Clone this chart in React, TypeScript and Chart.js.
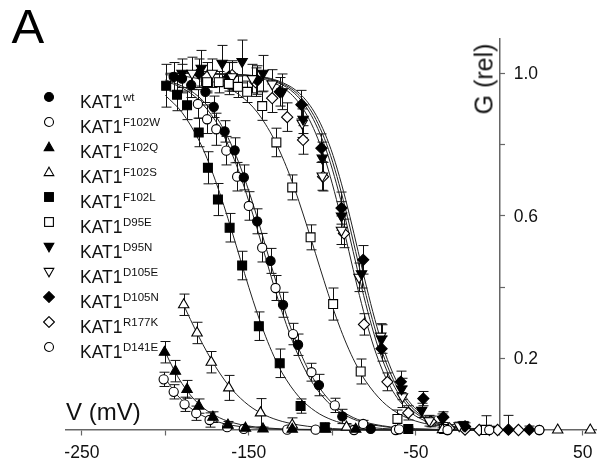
import React, { useEffect, useRef } from 'react';
import { Chart, registerables } from 'chart.js';

Chart.register(...registerables);

const FONT = "'Liberation Sans', Arial, Helvetica, sans-serif";

// ---------- axis ticks ----------
const X_TICKS = [-250, -200, -150, -100, -50, 0, 50];
const X_TICK_LABELS = ['-250', '', '-150', '', '-50', '', '50'];
const Y_TICKS = [0.2, 0.4, 0.6, 0.8, 1.0];
const Y_TICK_LABELS = ['0.2', '', '0.6', '', '1.0'];
const X_MIN = -259.5;
const X_MAX = 58.3;
const Y_MIN = 0;
const Y_MAX = 1.096;

// ---------- legend ----------
const BASE_NAME = 'KAT1';
const VARIANTS = ['wt', 'F102W', 'F102Q', 'F102S', 'F102L', 'D95E', 'D95N', 'D105E', 'D105N', 'R177K', 'D141E'];

// ---------- data (V in mV, G relative, E = error) ----------
const wtV = [-195, -190, -184.5, -176, -171, -164.5, -158.5, -153, -145, -137, -129.5, -120.5, -108, -94, -77];
const wtG = [0.99, 0.985, 0.967, 0.948, 0.906, 0.837, 0.784, 0.708, 0.585, 0.474, 0.351, 0.239, 0.126, 0.038, 0.003];
const wtE = [0.04, 0.04, 0.035, 0.03, 0.03, 0.03, 0.035, 0.035, 0.035, 0.035, 0.035, 0.03, 0.03, 0.02, 0.01];

const f102wV = [-180.5, -175, -169.5, -163.5, -157, -150, -142, -134, -123.5, -112.5, -98.5, -81.5, -60, -31, -6, 24];
const f102wG = [0.914, 0.871, 0.843, 0.783, 0.71, 0.628, 0.511, 0.398, 0.269, 0.162, 0.069, 0.017, 0.002, 0, 0, 0];
const f102wE = [0.04, 0.04, 0.045, 0.04, 0.04, 0.04, 0.04, 0.035, 0.03, 0.025, 0.02, 0.01, 0.005, 0, 0, 0];

const f102qV = [-200.5, -194, -187, -180, -171.5, -162.5, -152, -141.5, -124, -104, -86];
const f102qG = [0.218, 0.165, 0.114, 0.067, 0.036, 0.014, 0.005, 0.003, 0.002, 0.002, 0.002];
const f102qE = [0.03, 0.03, 0.025, 0.02, 0.015, 0.01, 0.005, 0.005, 0.003, 0.003, 0.003];

const f102sV = [-189, -181, -172.5, -162, -143, -124, -91.5, -34, 35, 54.5];
const f102sG = [0.351, 0.272, 0.19, 0.118, 0.048, 0.014, 0.008, 0.001, 0, 0];
const f102sE = [0.03, 0.03, 0.03, 0.035, 0.04, 0.02, 0.01, 0.005, 0, 0];

const f102lV = [-199.5, -193, -187, -180, -174.5, -168.5, -161.5, -154, -144, -131.5, -119, -104.5, -54.5];
const f102lG = [0.965, 0.94, 0.91, 0.834, 0.735, 0.646, 0.567, 0.461, 0.291, 0.187, 0.067, 0.008, 0.003];
const f102lE = [0.06, 0.045, 0.04, 0.04, 0.045, 0.045, 0.04, 0.04, 0.04, 0.04, 0.02, 0.01, 0.005];

const d95eV = [-175, -168, -162, -156.5, -151, -142, -133.5, -124, -113, -99.5, -83, -61, -33, -8];
const d95eG = [0.975, 0.975, 0.97, 0.962, 0.948, 0.908, 0.806, 0.68, 0.54, 0.353, 0.164, 0.031, 0.003, 0];
const d95eE = [0.03, 0.03, 0.03, 0.03, 0.03, 0.04, 0.04, 0.035, 0.035, 0.045, 0.035, 0.025, 0.005, 0];

const d95nV = [-190, -178.5, -166, -154, -141.5, -130, -117.5, -106, -94.5, -82.5, -70.5, -58.5, -46.5, -34, -21.5, -8];
const d95nG = [1.0, 1.014, 1.028, 1.033, 1.0, 0.948, 0.871, 0.762, 0.6, 0.438, 0.255, 0.115, 0.055, 0.03, 0.014, 0.005];
const d95nE = [0.04, 0.05, 0.05, 0.06, 0.05, 0.05, 0.04, 0.045, 0.04, 0.04, 0.04, 0.03, 0.02, 0.015, 0.01, 0.035];

const d105eV = [-184, -172, -160, -148, -136, -118, -106, -94.5, -84, -71, -58, -42, -24, -6];
const d105eG = [1.0, 1.0, 0.99, 0.985, 0.97, 0.86, 0.712, 0.56, 0.428, 0.263, 0.093, 0.026, 0.012, 0.002];
const d105eE = [0.045, 0.04, 0.04, 0.04, 0.04, 0.04, 0.04, 0.04, 0.04, 0.035, 0.03, 0.015, 0.01, 0.004];

const d105nV = [-180, -162, -145, -131.5, -118.5, -106.5, -94.5, -81.5, -70.5, -59, -45.5, -33.5, -20.5, 5.5, 18];
const d105nG = [1.0, 0.99, 0.981, 0.948, 0.912, 0.79, 0.622, 0.477, 0.228, 0.135, 0.088, 0.036, 0.01, 0.001, 0.001];
const d105nE = [0.04, 0.04, 0.04, 0.04, 0.04, 0.04, 0.045, 0.04, 0.035, 0.03, 0.02, 0.015, 0.01, 0.04, 0.01];

const r177kV = [-175, -160, -146, -136, -127, -117.5, -105.5, -93, -81, -67, -54.5, -41, -30, -20.5, -12, -1, 11.5];
const r177kG = [0.99, 0.995, 0.975, 0.93, 0.877, 0.813, 0.71, 0.551, 0.296, 0.135, 0.048, 0.024, 0.005, 0.001, 0, 0, 0];
const r177kE = [0.04, 0.04, 0.04, 0.04, 0.04, 0.04, 0.04, 0.04, 0.03, 0.025, 0.02, 0.015, 0.01, 0.005, 0, 0, 0];

const d141eV = [-201, -195, -188.5, -181.5, -173.5, -163, -153, -127, -110, -87, -62, -31, 24];
const d141eG = [0.142, 0.107, 0.072, 0.047, 0.028, 0.008, 0.003, 0.001, 0.001, 0, 0, 0, 0];
const d141eE = [0.02, 0.02, 0.02, 0.02, 0.02, 0.01, 0.005, 0.003, 0.003, 0, 0, 0, 0];

// ---------- fitted curves ----------
const lowFitV = [-200, -195, -190, -185, -180, -175, -170, -165, -160, -150, -140, -130, -120, -100, -60, -5];
const f102qFitG = [0.218, 0.17, 0.13, 0.098, 0.073, 0.054, 0.04, 0.029, 0.021, 0.011, 0.006, 0.003, 0.002, 0.001, 0, 0];
const d141eFitG = [0.145, 0.11, 0.083, 0.062, 0.046, 0.034, 0.025, 0.018, 0.013, 0.007, 0.004, 0.002, 0.001, 0, 0, 0];

const f102sFitV = [-190, -185, -180, -175, -170, -165, -160, -150, -140, -130, -120, -110, -100, -80, -40, -5];
const f102sFitG = [0.36, 0.31, 0.262, 0.218, 0.178, 0.143, 0.113, 0.069, 0.041, 0.024, 0.014, 0.008, 0.004, 0.001, 0, 0];

const f102lFitV = [-200, -190, -180, -175, -170, -165, -160, -155, -150, -145, -140, -135, -130, -120, -110, -100, -90, -80, -60, -30, -5];
const f102lFitG = [0.938, 0.89, 0.813, 0.761, 0.699, 0.63, 0.555, 0.477, 0.4, 0.328, 0.263, 0.207, 0.16, 0.093, 0.052, 0.028, 0.015, 0.008, 0.002, 0, 0];

const midFitV = [-200, -190, -180, -170, -165, -160, -155, -150, -145, -140, -135, -130, -125, -120, -115, -110, -100, -90, -80, -70, -60, -40, -5];
const wtFitG = [0.981, 0.964, 0.934, 0.881, 0.842, 0.795, 0.737, 0.67, 0.596, 0.516, 0.436, 0.359, 0.288, 0.227, 0.175, 0.134, 0.075, 0.041, 0.022, 0.012, 0.006, 0.002, 0];
const f102wFitG = [0.978, 0.959, 0.925, 0.867, 0.825, 0.773, 0.712, 0.641, 0.564, 0.484, 0.404, 0.33, 0.263, 0.205, 0.157, 0.119, 0.066, 0.036, 0.019, 0.01, 0.005, 0.0015, 0];

const d95eFitV = [-200, -190, -180, -170, -160, -150, -145, -140, -135, -130, -125, -120, -115, -110, -105, -100, -95, -90, -85, -80, -70, -60, -50, -40, -30, -20, -5];
const d95eFitG = [0.996, 0.992, 0.985, 0.974, 0.953, 0.917, 0.891, 0.857, 0.816, 0.766, 0.708, 0.641, 0.569, 0.494, 0.419, 0.347, 0.282, 0.225, 0.177, 0.137, 0.08, 0.045, 0.025, 0.014, 0.0075, 0.004, 0.001];

const clusterFitG = [1.0, 0.999, 0.996, 0.992, 0.982, 0.961, 0.943, 0.917, 0.881, 0.832, 0.769, 0.69, 0.599, 0.5, 0.401, 0.31, 0.231, 0.168, 0.119, 0.083, 0.057, 0.039, 0.018, 0.008, 0.004, 0.002];
const r177kFitV = [-200, -180, -160, -150, -140, -130, -125, -120, -115, -110, -105, -100, -95, -90, -85, -80, -75, -70, -65, -60, -55, -50, -40, -30, -20, -10];
const d105eFitV = [-197.5, -177.5, -157.5, -147.5, -137.5, -127.5, -122.5, -117.5, -112.5, -107.5, -102.5, -97.5, -92.5, -87.5, -82.5, -77.5, -72.5, -67.5, -62.5, -57.5, -52.5, -47.5, -37.5, -27.5, -17.5, -7.5];
const d95nFitV = [-196, -176, -156, -146, -136, -126, -121, -116, -111, -106, -101, -96, -91, -86, -81, -76, -71, -66, -61, -56, -51, -46, -36, -26, -16, -6];
const d105nFitV = [-194.5, -174.5, -154.5, -144.5, -134.5, -124.5, -119.5, -114.5, -109.5, -104.5, -99.5, -94.5, -89.5, -84.5, -79.5, -74.5, -69.5, -64.5, -59.5, -54.5, -49.5, -44.5, -34.5, -24.5, -14.5, -4.5];

// ---------- series table (built from the arrays) ----------
type Shape = 'circle' | 'triangle' | 'down' | 'rect' | 'diamond';
const SERIES: { v: number[]; g: number[]; e: number[]; shape: Shape; filled: boolean }[] = [
  { v: wtV, g: wtG, e: wtE, shape: 'circle', filled: true },
  { v: f102wV, g: f102wG, e: f102wE, shape: 'circle', filled: false },
  { v: f102qV, g: f102qG, e: f102qE, shape: 'triangle', filled: true },
  { v: f102sV, g: f102sG, e: f102sE, shape: 'triangle', filled: false },
  { v: f102lV, g: f102lG, e: f102lE, shape: 'rect', filled: true },
  { v: d95eV, g: d95eG, e: d95eE, shape: 'rect', filled: false },
  { v: d95nV, g: d95nG, e: d95nE, shape: 'down', filled: true },
  { v: d105eV, g: d105eG, e: d105eE, shape: 'down', filled: false },
  { v: d105nV, g: d105nG, e: d105nE, shape: 'diamond', filled: true },
  { v: r177kV, g: r177kG, e: r177kE, shape: 'diamond', filled: false },
  { v: d141eV, g: d141eG, e: d141eE, shape: 'circle', filled: false },
];

const FITS: { v: number[]; g: number[] }[] = [
  { v: lowFitV, g: f102qFitG },
  { v: lowFitV, g: d141eFitG },
  { v: f102sFitV, g: f102sFitG },
  { v: f102lFitV, g: f102lFitG },
  { v: midFitV, g: wtFitG },
  { v: midFitV, g: f102wFitG },
  { v: d95eFitV, g: d95eFitG },
  { v: r177kFitV, g: clusterFitG },
  { v: d105eFitV, g: clusterFitG },
  { v: d95nFitV, g: clusterFitG },
  { v: d105nFitV, g: clusterFitG },
];

const INK = '#111';
const AXIS = '#666';

function pointStyleFor(shape: Shape) {
  switch (shape) {
    case 'circle': return { pointStyle: 'circle', radius: 4.6, rotation: 0 };
    case 'triangle': return { pointStyle: 'triangle', radius: 6, rotation: 0 };
    case 'down': return { pointStyle: 'triangle', radius: 6, rotation: 180 };
    case 'rect': return { pointStyle: 'rect', radius: 6.3, rotation: 0 };
    default: return { pointStyle: 'rectRot', radius: 5.6, rotation: 0 };
  }
}

const errorBars = {
  id: 'errorBars',
  beforeDatasetsDraw(chart: any) {
    const { ctx } = chart;
    const xs = chart.scales.x;
    const ys = chart.scales.y;
    ctx.save();
    ctx.strokeStyle = INK;
    ctx.lineWidth = 1;
    SERIES.forEach((s) => {
      s.v.forEach((v, j) => {
        const e = s.e[j];
        if (!e) return;
        const px = Math.round(xs.getPixelForValue(v)) + 0.5;
        const top = ys.getPixelForValue(s.g[j] + e);
        const bot = ys.getPixelForValue(Math.max(0, s.g[j] - e));
        ctx.beginPath();
        ctx.moveTo(px, top);
        ctx.lineTo(px, bot);
        ctx.moveTo(px - 5, top);
        ctx.lineTo(px + 5, top);
        if (s.g[j] - e > 0) {
          ctx.moveTo(px - 5, bot);
          ctx.lineTo(px + 5, bot);
        }
        ctx.stroke();
      });
    });
    ctx.restore();
  },
};

const yLabels = {
  id: 'yLabels',
  afterDraw(chart: any) {
    const { ctx } = chart;
    const xs = chart.scales.x;
    const ys = chart.scales.y;
    const x0 = xs.getPixelForValue(0);
    ctx.save();
    ctx.fillStyle = INK;
    ctx.font = `17.5px ${FONT}`;
    ctx.textAlign = 'left';
    ctx.textBaseline = 'middle';
    Y_TICKS.forEach((t, i) => {
      const lab = Y_TICK_LABELS[i];
      if (!lab) return;
      ctx.fillText(lab, x0 + 14.5, ys.getPixelForValue(t) + 1);
    });
    ctx.restore();
  },
};

function LegendSymbol({ shape, filled }: { shape: Shape; filled: boolean }) {
  const fill = filled ? '#000' : '#fff';
  const common = { fill, stroke: '#000', strokeWidth: 1.1 };
  let el: any;
  if (shape === 'circle') el = <circle cx={6} cy={6} r={4.5} {...common} />;
  else if (shape === 'triangle') el = <polygon points="6,1.2 10.8,9.6 1.2,9.6" {...common} />;
  else if (shape === 'down') el = <polygon points="1.2,2.4 10.8,2.4 6,10.8" {...common} />;
  else if (shape === 'rect') el = <rect x={1.6} y={1.6} width={8.8} height={8.8} {...common} />;
  else el = <polygon points="6,0.6 11.4,6 6,11.4 0.6,6" {...common} />;
  return (
    <svg width={12} height={12} style={{ position: 'absolute', left: 43, top: 4 }}>
      {el}
    </svg>
  );
}

export default function App() {
  const ref = useRef<HTMLCanvasElement>(null);

  useEffect(() => {
    const datasets: any[] = [];
    FITS.forEach((f) => {
      datasets.push({
        data: f.v.map((v, i) => ({ x: v, y: f.g[i] })),
        showLine: true,
        borderColor: '#222',
        borderWidth: 1,
        pointRadius: 0,
        cubicInterpolationMode: 'monotone',
        fill: false,
        order: 2,
        clip: false,
      });
    });
    SERIES.forEach((s) => {
      const ps = pointStyleFor(s.shape);
      datasets.push({
        data: s.v.map((v, i) => ({ x: v, y: s.g[i] })),
        showLine: false,
        pointStyle: ps.pointStyle,
        pointRadius: ps.radius,
        pointRotation: ps.rotation,
        pointBackgroundColor: s.filled ? '#000' : '#fff',
        pointBorderColor: '#000',
        pointBorderWidth: 1.1,
        order: 1,
        clip: false,
      });
    });

    const chart = new Chart(ref.current as HTMLCanvasElement, {
      type: 'scatter',
      data: { datasets },
      options: {
        responsive: false,
        animation: false,
        events: [],
        layout: { padding: { left: 66, right: 0, top: 39, bottom: 37 } },
        plugins: { legend: { display: false }, tooltip: { enabled: false }, title: { display: false } },
        scales: {
          x: {
            type: 'linear',
            position: { y: 0 } as any,
            min: X_MIN,
            max: X_MAX,
            afterBuildTicks: (scale: any) => {
              scale.ticks = X_TICKS.map((v) => ({ value: v }));
            },
            ticks: {
              autoSkip: false,
              maxRotation: 0,
              color: INK,
              font: { family: FONT, size: 17.5 },
              padding: 8,
              callback: (val: any) => {
                const i = X_TICKS.indexOf(Number(val));
                return i >= 0 ? X_TICK_LABELS[i] : '';
              },
            },
            grid: { drawOnChartArea: false, color: AXIS, tickLength: 5, tickWidth: 1.2 },
            border: { display: true, color: AXIS, width: 1.5 },
          },
          y: {
            type: 'linear',
            position: { x: 0 } as any,
            min: Y_MIN,
            max: Y_MAX,
            afterBuildTicks: (scale: any) => {
              scale.ticks = Y_TICKS.map((v) => ({ value: v }));
            },
            ticks: { display: false },
            grid: { drawOnChartArea: false, color: AXIS, tickLength: -6, tickWidth: 1.2 },
            border: { display: true, color: AXIS, width: 1.5 },
          },
        },
      },
      plugins: [errorBars, yLabels],
    });
    return () => chart.destroy();
  }, []);

  const rowTop = (i: number) => 96.7 + 25 * i - 10;

  return (
    <div style={{ position: 'absolute', left: 0, top: 0, width: 604, height: 467, background: '#fff', fontFamily: FONT, color: INK, overflow: 'hidden' }}>
      <canvas ref={ref} width={604} height={467} style={{ position: 'absolute', left: 0, top: 0, width: 604, height: 467 }} />
      <div style={{ position: 'absolute', left: 11.5, top: 1.8, fontSize: 49, lineHeight: '49px', color: '#000' }}>A</div>
      <div style={{ position: 'absolute', left: 66, top: 399.7, fontSize: 24, lineHeight: '24px', whiteSpace: 'nowrap' }}>V (mV)</div>
      <div
        style={{
          position: 'absolute',
          left: 484,
          top: 79,
          fontSize: 25,
          lineHeight: '25px',
          whiteSpace: 'nowrap',
          transform: 'translate(-50%, -50%) rotate(-90deg)',
        }}
      >
        G (rel)
      </div>
      {VARIANTS.map((name, i) => (
        <div key={name} style={{ position: 'absolute', left: 0, top: rowTop(i), height: 20, width: 200 }}>
          <LegendSymbol shape={SERIES[i].shape} filled={SERIES[i].filled} />
          <div style={{ position: 'absolute', left: 80, top: 0, fontSize: 17.5, lineHeight: '20px', whiteSpace: 'nowrap' }}>
            {BASE_NAME}
            <span style={{ fontSize: 11.5, verticalAlign: 7, marginLeft: 0.5 }}>{name}</span>
          </div>
        </div>
      ))}
    </div>
  );
}
